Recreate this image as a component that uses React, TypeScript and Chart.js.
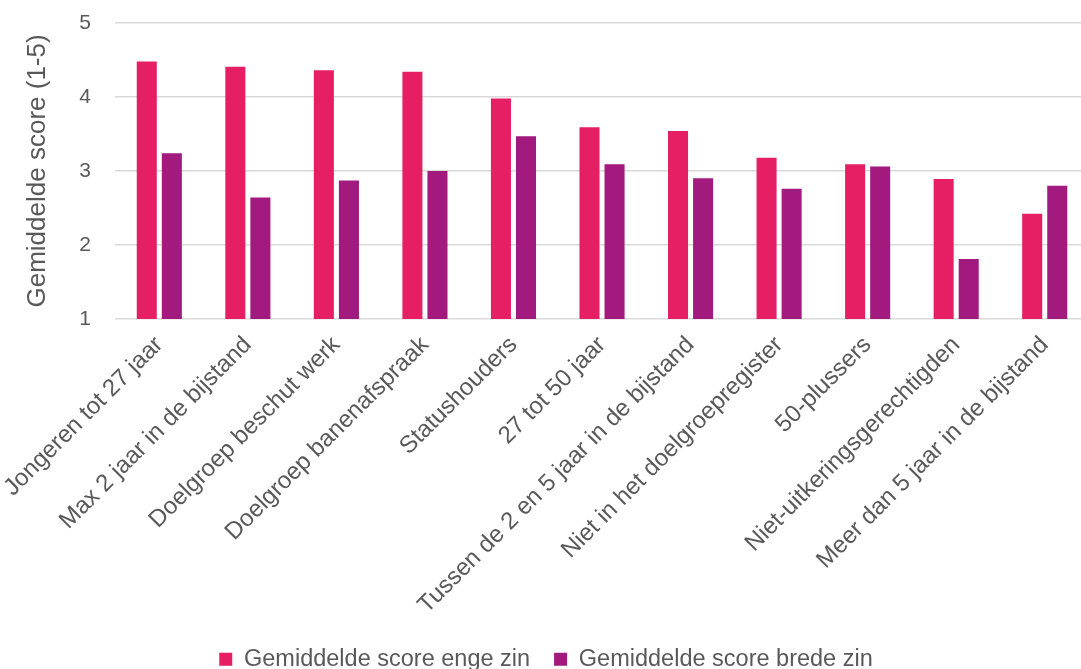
import React, { useEffect, useRef } from "react";
import { Chart, registerables } from "chart.js";

Chart.register(...registerables);

const categories = [
  "Jongeren tot 27 jaar",
  "Max 2 jaar in de bijstand",
  "Doelgroep beschut werk",
  "Doelgroep banenafspraak",
  "Statushouders",
  "27 tot 50 jaar",
  "Tussen de 2 en 5 jaar in de bijstand",
  "Niet in het doelgroepregister",
  "50-plussers",
  "Niet-uitkeringsgerechtigden",
  "Meer dan 5 jaar in de bijstand",
];

const engeZin = [4.48, 4.41, 4.36, 4.34, 3.98, 3.59, 3.54, 3.18, 3.09, 2.89, 2.42];
const bredeZin = [3.24, 2.64, 2.87, 3.0, 3.47, 3.09, 2.9, 2.76, 3.06, 1.81, 2.8];

const seriesLabels = ["Gemiddelde score enge zin", "Gemiddelde score brede zin"];
const yTitle = "Gemiddelde score (1-5)";

const PINK = "#E61F64";
const PURPLE = "#A21A7E";
const TEXT = "#595959";
const FONT = "'Liberation Sans', Arial, sans-serif";

// The plot runs a little past the right edge of the visible frame.
const CANVAS_W = 1089;
const CANVAS_H = 669;

export default function App() {
  const canvasRef = useRef<HTMLCanvasElement | null>(null);

  useEffect(() => {
    document.body.style.margin = "0";
    const canvas = canvasRef.current;
    if (!canvas) return;
    const chart = new Chart(canvas, {
      type: "bar",
      data: {
        labels: categories,
        datasets: [
          {
            label: seriesLabels[0],
            data: engeZin,
            backgroundColor: PINK,
            categoryPercentage: 0.566,
            barPercentage: 0.8,
          },
          {
            label: seriesLabels[1],
            data: bredeZin,
            backgroundColor: PURPLE,
            categoryPercentage: 0.566,
            barPercentage: 0.8,
          },
        ],
      },
      options: {
        animation: false,
        responsive: false,
        maintainAspectRatio: false,
        layout: { padding: { left: 3, right: 0, top: 23, bottom: -12 } },
        plugins: {
          tooltip: { enabled: false },
          legend: {
            position: "bottom",
            labels: {
              color: TEXT,
              font: { family: FONT, size: 23.5 },
              boxWidth: 13,
              boxHeight: 13,
              padding: 24,
            },
          },
        },
        scales: {
          x: {
            grid: { display: false },
            border: { display: false },
            ticks: {
              color: TEXT,
              font: { family: FONT, size: 24 },
              minRotation: 45,
              maxRotation: 45,
              autoSkip: false,
              padding: 4,
            },
          },
          y: {
            min: 1,
            max: 5,
            border: { display: false },
            // invisible tick marks keep the labels clear of the plot
            grid: {
              color: "#D9D9D9",
              lineWidth: 1.5,
              drawTicks: true,
              tickLength: 24,
              tickColor: "rgba(0,0,0,0)",
            },
            ticks: {
              stepSize: 1,
              color: TEXT,
              font: { family: FONT, size: 21 },
              padding: 0,
            },
            title: {
              display: true,
              text: yTitle,
              color: TEXT,
              font: { family: FONT, size: 26 },
              padding: { top: 0, bottom: 26 },
            },
          },
        },
      },
    });
    return () => chart.destroy();
  }, []);

  return (
    <div style={{ width: 1081, height: CANVAS_H, overflow: "hidden" }}>
      <canvas ref={canvasRef} width={CANVAS_W} height={CANVAS_H} style={{ display: "block" }} />
    </div>
  );
}
